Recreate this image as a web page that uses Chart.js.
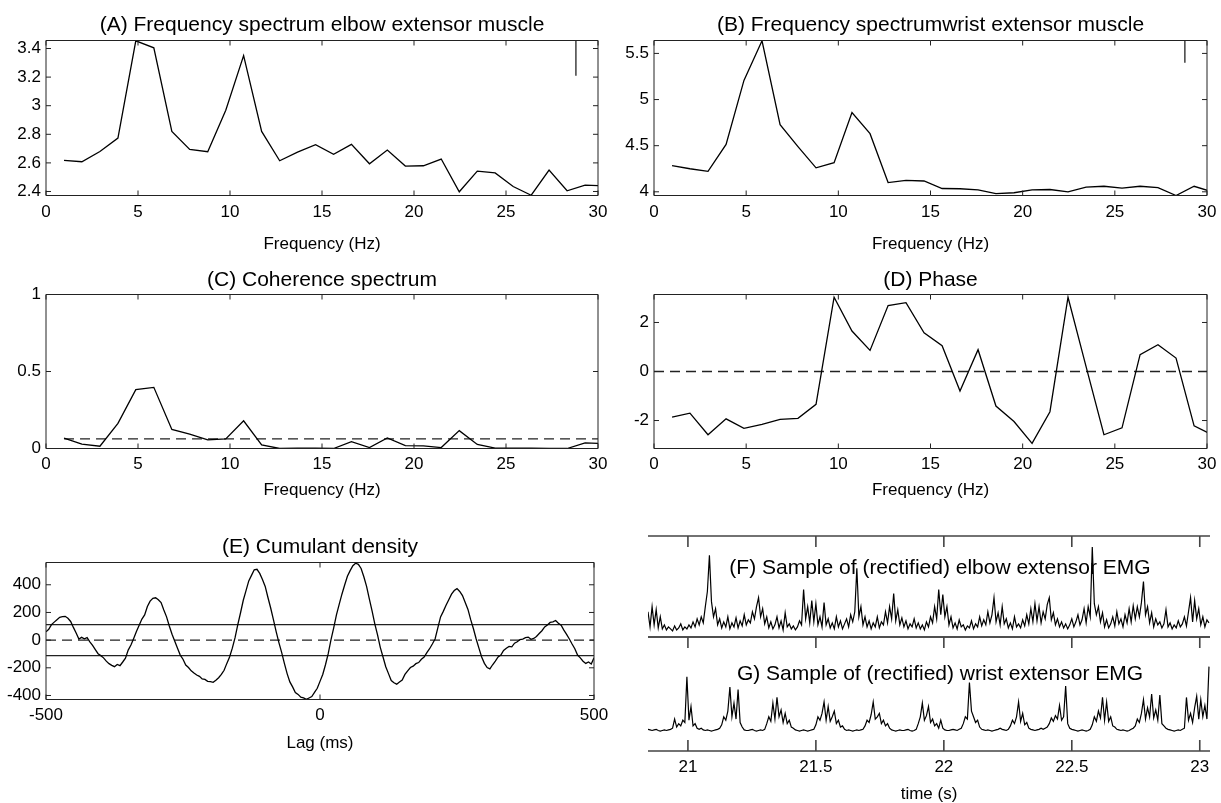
<!DOCTYPE html>
<html lang="en">
<head>
<meta charset="UTF-8">
<meta name="viewport" content="width=device-width, initial-scale=1.0">
<title>Elbow / wrist EMG coherence</title>
<script src="https://cdn.jsdelivr.net/npm/chart.js@4.4.0/dist/chart.umd.min.js"></script>
<style>
  html, body { margin: 0; padding: 0; background: #fff; }
  #page { position: relative; width: 1221px; height: 803px; overflow: hidden; }
  .panel { position: absolute; }
</style>
</head>
<body>
<div id="page"></div>

<script>
// ---- data ----
const FREQ = [0.98, 1.95, 2.93, 3.91, 4.88, 5.86, 6.84, 7.81, 8.79, 9.77, 10.74, 11.72, 12.70, 13.67, 14.65,
  15.63, 16.60, 17.58, 18.55, 19.53, 20.51, 21.48, 22.46, 23.44, 24.41, 25.39, 26.37, 27.34, 28.32, 29.30, 30.27];

const ELBOW_SPEC = [2.617, 2.608, 2.68, 2.774, 3.454, 3.405, 2.82, 2.694, 2.678, 2.968, 3.35, 2.82, 2.615, 2.675, 2.727,
  2.66, 2.73, 2.594, 2.69, 2.578, 2.58, 2.627, 2.398, 2.542, 2.53, 2.435, 2.374, 2.55, 2.405, 2.444, 2.44];
const ELBOW_BAR = [3.456, 3.21];

const WRIST_SPEC = [4.283, 4.25, 4.222, 4.514, 5.208, 5.637, 4.728, 4.49, 4.26, 4.316, 4.86, 4.63, 4.10, 4.124, 4.117,
  4.036, 4.033, 4.02, 3.98, 3.99, 4.02, 4.025, 4.0, 4.05, 4.06, 4.04, 4.06, 4.045, 3.96, 4.06, 4.0];
const WRIST_BAR = [5.64, 5.40];
const BAR_FREQ = 28.8;

const COHERENCE = [0.067, 0.028, 0.015, 0.163, 0.382, 0.397, 0.124, 0.094, 0.056, 0.062, 0.18, 0.024, 0.0, 0.002, 0.002,
  0.0, 0.045, 0.006, 0.069, 0.019, 0.017, 0.006, 0.116, 0.026, 0.002, 0.002, 0.002, 0.0, 0.0, 0.036, 0.032];
const COH_LIMIT = 0.062;

const PHASE = [-1.86, -1.70, -2.58, -1.93, -2.32, -2.16, -1.95, -1.91, -1.34, 3.03, 1.65, 0.86, 2.69, 2.81, 1.58,
  1.05, -0.80, 0.89, -1.41, -2.04, -2.93, -1.64, 3.03, 0.2, -2.58, -2.30, 0.69, 1.09, 0.55, -2.22, -2.58];

// cumulant density, one value every 5 ms from -500 ms
const LAG_START = -500, LAG_STEP = 5;
const CUMULANT = [
  60, 78, 112, 130, 148, 165, 170, 172, 158, 135, 92, 52, 8, 20, 10, 18, -12, -38, -68, -98,
  -112, -128, -152, -170, -182, -192, -176, -184, -158, -130, -72, -35, 12, 62, 108, 152, 182, 243, 282, 302,
  306, 292, 272, 218, 168, 102, 42, -8, -58, -108, -138, -180, -198, -222, -238, -252, -262, -280, -284, -298,
  -300, -305, -290, -272, -248, -218, -168, -122, -58, 18, 112, 198, 288, 358, 428, 468, 508, 512, 482, 438,
  388, 308, 232, 148, 62, -18, -88, -168, -242, -302, -338, -378, -392, -412, -418, -428, -418, -408, -378, -348,
  -298, -248, -178, -98, 2, 88, 182, 258, 332, 398, 462, 502, 538, 556, 548, 518, 458, 388, 298, 212,
  118, 38, -52, -122, -192, -242, -292, -308, -318, -302, -288, -248, -222, -198, -188, -170, -162, -138, -122, -90,
  -62, -28, 8, 88, 168, 208, 252, 292, 332, 358, 372, 352, 322, 272, 222, 148, 82, 8, -58, -122,
  -168, -198, -208, -178, -152, -122, -108, -75, -58, -45, -48, -22, -12, 4, 8, 18, 22, 6, 12, 26,
  48, 68, 96, 110, 128, 132, 142, 122, 108, 72, 42, 8, -28, -62, -108, -128, -152, -168, -158, -172, -128
];
const CUM_LIMIT = 112;

// rectified EMG samples (arbitrary units), one every 8 ms from 20.844 s
const EMG_T0 = 20.844, EMG_DT = 0.008;
const ELBOW_EMG = [
  0.25,0.1,0.3,0.12,0.27,0.09,0.2,0.08,0.12,0.07,0.1,0.08,0.06,0.11,0.07,0.09,0.13,0.07,0.1,0.08,0.12,0.09,0.15,0.1,0.18,
  0.12,0.2,0.14,0.3,0.45,0.81,0.35,0.2,0.28,0.12,0.18,0.09,0.15,0.1,0.2,0.08,0.14,0.1,0.19,0.09,0.16,0.11,0.22,0.12,0.17,
  0.14,0.25,0.18,0.3,0.39,0.2,0.28,0.13,0.2,0.09,0.15,0.08,0.12,0.2,0.09,0.16,0.07,0.24,0.1,0.13,0.08,0.11,0.07,0.1,0.16,
  0.12,0.47,0.18,0.3,0.14,0.36,0.15,0.33,0.12,0.2,0.1,0.34,0.12,0.18,0.09,0.14,0.08,0.2,0.1,0.16,0.08,0.13,0.18,0.1,0.22,
  0.15,0.25,0.68,0.2,0.3,0.12,0.2,0.1,0.16,0.08,0.14,0.1,0.2,0.09,0.15,0.12,0.25,0.14,0.3,0.18,0.43,0.16,0.27,0.12,0.19,
  0.1,0.16,0.08,0.13,0.1,0.18,0.09,0.14,0.08,0.12,0.07,0.15,0.1,0.2,0.14,0.3,0.18,0.47,0.22,0.42,0.2,0.3,0.12,0.2,0.09,
  0.14,0.08,0.17,0.1,0.12,0.07,0.11,0.09,0.16,0.08,0.13,0.1,0.2,0.11,0.17,0.12,0.25,0.14,0.22,0.39,0.15,0.24,0.12,0.3,0.13,
  0.18,0.09,0.14,0.08,0.2,0.1,0.13,0.09,0.17,0.11,0.22,0.13,0.28,0.15,0.33,0.16,0.3,0.14,0.25,0.18,0.32,0.39,0.17,0.24,0.12,
  0.18,0.1,0.15,0.09,0.13,0.08,0.12,0.18,0.1,0.15,0.22,0.12,0.17,0.28,0.14,0.3,0.2,0.89,0.33,0.22,0.3,0.15,0.24,0.1,0.17,
  0.09,0.13,0.2,0.11,0.25,0.13,0.18,0.1,0.22,0.14,0.28,0.15,0.31,0.18,0.3,0.2,0.34,0.55,0.22,0.3,0.14,0.24,0.1,0.18,0.12,
  0.15,0.09,0.13,0.27,0.1,0.14,0.08,0.12,0.09,0.16,0.1,0.13,0.2,0.11,0.25,0.39,0.15,0.36,0.18,0.28,0.12,0.2,0.1,0.17,0.14
];
const WRIST_EMG = [
  0.19,0.185,0.18,0.185,0.19,0.18,0.175,0.18,0.185,0.18,0.185,0.19,0.2,0.28,0.21,0.24,0.22,0.27,0.25,0.65,0.27,0.39,0.22,0.24,0.2,
  0.19,0.2,0.185,0.18,0.185,0.18,0.175,0.18,0.185,0.19,0.2,0.23,0.3,0.27,0.35,0.56,0.3,0.42,0.28,0.54,0.25,0.21,0.185,0.18,0.18,
  0.185,0.19,0.18,0.175,0.18,0.185,0.18,0.19,0.24,0.3,0.26,0.42,0.28,0.47,0.3,0.36,0.25,0.33,0.24,0.27,0.21,0.2,0.185,0.18,0.175,
  0.18,0.185,0.18,0.175,0.18,0.185,0.19,0.23,0.3,0.27,0.33,0.43,0.27,0.39,0.26,0.3,0.35,0.24,0.27,0.21,0.22,0.19,0.18,0.185,0.18,
  0.175,0.18,0.185,0.18,0.185,0.19,0.22,0.27,0.25,0.32,0.43,0.28,0.3,0.33,0.24,0.27,0.22,0.24,0.2,0.185,0.18,0.175,0.18,0.185,0.18,
  0.18,0.185,0.19,0.18,0.175,0.18,0.19,0.24,0.3,0.42,0.27,0.31,0.39,0.25,0.28,0.22,0.24,0.2,0.27,0.2,0.185,0.18,0.18,0.185,0.19,
  0.185,0.18,0.19,0.2,0.24,0.3,0.28,0.6,0.35,0.3,0.25,0.27,0.21,0.19,0.185,0.18,0.185,0.18,0.175,0.18,0.185,0.19,0.2,0.19,0.185,
  0.18,0.19,0.22,0.27,0.24,0.3,0.43,0.26,0.33,0.23,0.25,0.2,0.19,0.185,0.18,0.185,0.19,0.2,0.19,0.2,0.21,0.24,0.29,0.26,0.31,
  0.28,0.4,0.27,0.3,0.57,0.24,0.2,0.19,0.185,0.18,0.175,0.18,0.185,0.18,0.175,0.18,0.19,0.23,0.3,0.26,0.35,0.29,0.47,0.27,0.43,
  0.26,0.3,0.22,0.21,0.19,0.185,0.18,0.185,0.18,0.175,0.18,0.19,0.2,0.22,0.28,0.25,0.33,0.45,0.28,0.38,0.3,0.5,0.29,0.36,0.27,
  0.49,0.24,0.22,0.2,0.19,0.185,0.18,0.175,0.18,0.185,0.18,0.19,0.2,0.47,0.27,0.33,0.25,0.38,0.48,0.28,0.45,0.3,0.4,0.28,0.74
];

// tick values
const FREQ_TICKS = [0, 5, 10, 15, 20, 25, 30];
const ELBOW_TICKS = [2.4, 2.6, 2.8, 3, 3.2, 3.4];
const WRIST_TICKS = [4, 4.5, 5, 5.5];
const COH_TICKS = [0, 0.5, 1];
const PHASE_TICKS = [-2, 0, 2];
const LAG_TICKS = [-500, 0, 500];
const CUM_TICKS = [-400, -200, 0, 200, 400];
const TIME_TICKS = [21, 21.5, 22, 22.5, 23];

// ---- drawing ----
const FONT = "'Liberation Sans', Arial, Helvetica, sans-serif";
const TITLE_SIZE = 21, TICK_SIZE = 17, LABEL_SIZE = 17;
Chart.defaults.font.family = FONT;
Chart.defaults.color = '#000';
Chart.defaults.animation = false;

function xy(xs, ys) { return ys.map((y, i) => ({x: xs[i], y: y})); }
function sampled(t0, dt, ys) { return ys.map((y, i) => ({x: t0 + i * dt, y: y})); }
function flat(x0, x1, y) { return [{x: x0, y: y}, {x: x1, y: y}]; }

function trace(data, width) {
  return {data: data, borderColor: '#000', borderWidth: width || 1.3, pointRadius: 0, tension: 0, fill: false};
}
function refLine(data, dashed) {
  return {data: data, borderColor: '#222', borderWidth: 1.3, borderDash: dashed ? [10, 6] : [], pointRadius: 0, fill: false};
}

// matlab style box with inward ticks, plus an optional label inside the axes
const framePlugin = {
  id: 'frame',
  beforeDatasetsDraw(chart, args, o) {
    if (!o.label) return;
    const a = chart.chartArea, ctx = chart.ctx;
    ctx.save();
    ctx.font = TITLE_SIZE + 'px ' + FONT;
    ctx.fillStyle = '#000';
    ctx.textAlign = 'center';
    ctx.textBaseline = 'middle';
    ctx.fillText(o.label, (a.left + a.right) / 2 + o.labelDx, a.top + o.labelDy);
    ctx.restore();
  },
  afterDatasetsDraw(chart, args, o) {
    const a = chart.chartArea, ctx = chart.ctx;
    const sx = chart.scales.x, sy = chart.scales.y;
    const L = o.tick;
    ctx.save();
    ctx.strokeStyle = o.color;
    ctx.lineWidth = o.width;
    ctx.beginPath();
    o.sides.forEach(s => {
      if (s === 'top' || s === 'bottom') {
        const yy = s === 'top' ? a.top : a.bottom;
        ctx.moveTo(a.left, yy); ctx.lineTo(a.right, yy);
      } else {
        const xx = s === 'left' ? a.left : a.right;
        ctx.moveTo(xx, a.top); ctx.lineTo(xx, a.bottom);
      }
    });
    o.xTicks.forEach(s => {
      const yy = s === 'top' ? a.top : a.bottom, dir = s === 'top' ? 1 : -1;
      sx.ticks.forEach(t => {
        const p = sx.getPixelForValue(t.value);
        ctx.moveTo(p, yy); ctx.lineTo(p, yy + dir * L);
      });
    });
    o.yTicks.forEach(s => {
      const xx = s === 'left' ? a.left : a.right, dir = s === 'left' ? 1 : -1;
      sy.ticks.forEach(t => {
        const p = sy.getPixelForValue(t.value);
        ctx.moveTo(xx, p); ctx.lineTo(xx + dir * L, p);
      });
    });
    ctx.stroke();
    ctx.restore();
  }
};

function addCanvas(left, top, width, height) {
  const div = document.createElement('div');
  div.className = 'panel';
  div.style.left = left + 'px';
  div.style.top = top + 'px';
  div.style.width = width + 'px';
  div.style.height = height + 'px';
  const c = document.createElement('canvas');
  div.appendChild(c);
  document.getElementById('page').appendChild(div);
  return c;
}

function setTicks(values) {
  return scale => { scale.ticks = values.map(v => ({value: v})); };
}

// p.area is the plot box in page pixels
function axesPanel(p) {
  const YW = 50, RM = 30, PT = 4, PB = 2;
  const half = TITLE_SIZE / 2;
  const H = Math.round(p.xTitleGap + LABEL_SIZE * 0.6);
  const top = p.area.t - PT - half - p.titleGap;
  const left = p.area.l - YW;
  const canvas = addCanvas(left, top, p.area.r - p.area.l + YW + RM, p.area.b - top + H + PB);
  return new Chart(canvas, {
    type: 'line',
    data: {datasets: p.datasets},
    options: {
      responsive: true,
      maintainAspectRatio: false,
      layout: {padding: {left: 0, right: RM, top: PT, bottom: PB}},
      plugins: {
        legend: {display: false},
        tooltip: {enabled: false},
        title: {display: true, text: p.title, fullSize: false, color: '#000',
          font: {size: TITLE_SIZE, weight: 'normal', lineHeight: 1}, padding: {top: 0, bottom: p.titleGap - half}},
        frame: {sides: ['top', 'bottom', 'left', 'right'], xTicks: ['top', 'bottom'], yTicks: ['left', 'right'],
          tick: 5, color: '#222', width: 1}
      },
      scales: {
        x: {
          type: 'linear', min: p.xMin, max: p.xMax,
          afterBuildTicks: setTicks(p.xTicks),
          afterFit: s => { s.height = H; },
          grid: {display: false, drawTicks: false}, border: {display: false},
          ticks: {font: {size: TICK_SIZE}, padding: p.labelGap - TICK_SIZE * 0.6, maxRotation: 0, autoSkip: false,
            callback: v => String(v)},
          title: {display: true, text: p.xTitle, font: {size: LABEL_SIZE}, padding: 0}
        },
        y: {
          type: 'linear', min: p.yMin, max: p.yMax,
          afterBuildTicks: setTicks(p.yTicks),
          afterFit: s => { s.width = YW; },
          grid: {display: false, drawTicks: false}, border: {display: false},
          ticks: {font: {size: TICK_SIZE}, padding: 5, autoSkip: false, callback: v => String(v)}
        }
      }
    },
    plugins: [framePlugin]
  });
}

// (A)
axesPanel({
  area: {l: 46, t: 40, r: 598, b: 195}, titleGap: 15, labelGap: 17, xTitleGap: 49,
  title: '(A) Frequency spectrum elbow extensor muscle', xTitle: 'Frequency (Hz)',
  xMin: 0, xMax: 30, yMin: 2.372, yMax: 3.456, xTicks: FREQ_TICKS, yTicks: ELBOW_TICKS,
  datasets: [trace(xy(FREQ, ELBOW_SPEC)), refLine(xy([BAR_FREQ, BAR_FREQ], ELBOW_BAR), false)]
});

// (B)
axesPanel({
  area: {l: 654, t: 40, r: 1207, b: 195}, titleGap: 15, labelGap: 17, xTitleGap: 49,
  title: '(B) Frequency spectrumwrist extensor muscle', xTitle: 'Frequency (Hz)',
  xMin: 0, xMax: 30, yMin: 3.96, yMax: 5.64, xTicks: FREQ_TICKS, yTicks: WRIST_TICKS,
  datasets: [trace(xy(FREQ, WRIST_SPEC)), refLine(xy([BAR_FREQ, BAR_FREQ], WRIST_BAR), false)]
});

// (C)
axesPanel({
  area: {l: 46, t: 294, r: 598, b: 448}, titleGap: 14, labelGap: 16, xTitleGap: 42,
  title: '(C) Coherence spectrum', xTitle: 'Frequency (Hz)',
  xMin: 0, xMax: 30, yMin: 0, yMax: 1, xTicks: FREQ_TICKS, yTicks: COH_TICKS,
  datasets: [trace(xy(FREQ, COHERENCE)), refLine(flat(FREQ[0], FREQ[FREQ.length - 1], COH_LIMIT), true)]
});

// (D)
axesPanel({
  area: {l: 654, t: 294, r: 1207, b: 448}, titleGap: 14, labelGap: 16, xTitleGap: 42,
  title: '(D) Phase', xTitle: 'Frequency (Hz)',
  xMin: 0, xMax: 30, yMin: -Math.PI, yMax: Math.PI, xTicks: FREQ_TICKS, yTicks: PHASE_TICKS,
  datasets: [trace(xy(FREQ, PHASE)), refLine(flat(0, 30, 0), true)]
});

// (E)
axesPanel({
  area: {l: 46, t: 562, r: 594, b: 699}, titleGap: 15, labelGap: 16, xTitleGap: 44,
  title: '(E) Cumulant density', xTitle: 'Lag (ms)',
  xMin: -500, xMax: 500, yMin: -429, yMax: 561, xTicks: LAG_TICKS, yTicks: CUM_TICKS,
  datasets: [
    trace(sampled(LAG_START, LAG_STEP, CUMULANT)),
    refLine(flat(-500, 500, 0), true),
    refLine(flat(-500, 500, CUM_LIMIT), false),
    refLine(flat(-500, 500, -CUM_LIMIT), false)
  ]
});

// (F) and (G): stacked EMG strips sharing the time axis
function emgPanel(p) {
  const left = 640, padL = 648 - left, padR = 1221 - 1210;
  const top = p.top - 6;
  const H = p.xAxis ? 54 : 0;
  const canvas = addCanvas(left, top, 1221 - left, 6 + (p.bottom - p.top) + H + 2);
  return new Chart(canvas, {
    type: 'line',
    data: {datasets: [trace(sampled(EMG_T0, EMG_DT, p.values), 1.2)]},
    options: {
      responsive: true,
      maintainAspectRatio: false,
      layout: {padding: {left: padL, right: padR, top: 6, bottom: 2}},
      plugins: {
        legend: {display: false},
        tooltip: {enabled: false},
        frame: {sides: ['top', 'bottom'], xTicks: p.tickSides, yTicks: [], tick: 11, color: '#444', width: 1.6,
          label: p.label, labelDx: 11, labelDy: p.labelDy}
      },
      scales: {
        x: {
          type: 'linear', min: EMG_T0, max: 23.04,
          afterBuildTicks: setTicks(TIME_TICKS),
          afterFit: s => { s.height = H; },
          grid: {display: false, drawTicks: false}, border: {display: false},
          ticks: {display: p.xAxis, font: {size: TICK_SIZE}, padding: 16 - TICK_SIZE * 0.6, maxRotation: 0, autoSkip: false,
            callback: v => String(v)},
          title: {display: p.xAxis, text: 'time (s)', font: {size: LABEL_SIZE}, padding: 0}
        },
        y: {
          type: 'linear', min: 0, max: 1,
          afterFit: s => { s.width = 0; },
          grid: {display: false, drawTicks: false}, border: {display: false},
          ticks: {display: false}
        }
      }
    },
    plugins: [framePlugin]
  });
}

emgPanel({top: 536, bottom: 637, values: ELBOW_EMG, xAxis: false, tickSides: ['top'],
  label: '(F) Sample of (rectified) elbow extensor EMG', labelDy: 32});
emgPanel({top: 637, bottom: 751, values: WRIST_EMG, xAxis: true, tickSides: ['top', 'bottom'],
  label: 'G) Sample of (rectified) wrist extensor EMG', labelDy: 37});
</script>
</body>
</html>
